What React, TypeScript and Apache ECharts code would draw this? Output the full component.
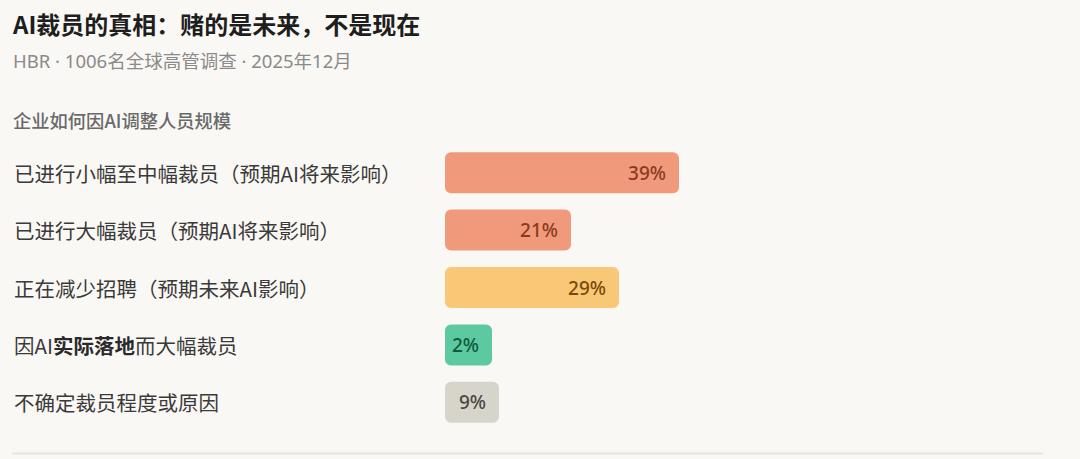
import React, { useEffect, useRef } from "react";
import * as echarts from "echarts";

const categories = [
  "已进行小幅至中幅裁员（预期AI将来影响）",
  "已进行大幅裁员（预期AI将来影响）",
  "正在减少招聘（预期未来AI影响）",
  "因AI实际落地而大幅裁员",
  "不确定裁员程度或原因",
];
const values = [39, 21, 29, 2, 9];
const barColors = ["#F09A7B", "#F09A7B", "#F9C877", "#5CC9A0", "#D7D4CC"];
const labelColors = ["#8A3A22", "#8A3A22", "#7A4A0C", "#0F5A3F", "#4A4740"];

const titleText = "AI裁员的真相：赌的是未来，不是现在";
const subtitleText = "HBR · 1006名全球高管调查 · 2025年12月";
const sectionText = "企业如何因AI调整人员规模";

const FONT = '"Noto Sans CJK SC", "Noto Sans", sans-serif';
const LATIN_FIRST = '"Noto Sans", "Noto Sans CJK SC", sans-serif';

export default function App() {
  const ref = useRef<HTMLDivElement>(null);
  useEffect(() => {
    if (!ref.current) return;
    const chart = echarts.init(ref.current, undefined, { renderer: "svg" });
    chart.setOption({
      animation: false,
      backgroundColor: "#FAF8F4",
      textStyle: { fontFamily: FONT },
      grid: { left: 445, right: 35, top: 144, height: 287 },
      xAxis: {
        type: "value",
        min: 0,
        max: 100,
        show: false,
      },
      yAxis: {
        type: "category",
        data: categories,
        inverse: true,
        axisLine: { show: false },
        axisTick: { show: false },
        splitLine: { show: false },
        axisLabel: {
          align: "left",
          margin: 431,
          fontSize: 20.5,
          color: "#3A3A3A",
          fontFamily: FONT,
          formatter: (v: string) =>
            v.includes("实际落地") ? v.replace("实际落地", "{b|实际落地}") : v,
          rich: {
            b: { fontSize: 20.5, fontWeight: "bold", color: "#2A2A2A", fontFamily: FONT },
          },
        },
      },
      series: [
        {
          type: "bar",
          data: values.map((v, i) => ({
            value: v,
            itemStyle: { color: barColors[i], borderRadius: 6 },
            label: { color: labelColors[i] },
          })),
          barWidth: 41,
          barMinHeight: 47,
          label: {
            show: true,
            position: "insideRight",
            distance: 13,
            formatter: "{c}%",
            fontSize: 19,
            fontWeight: 500,
            fontFamily: '"Noto Sans", sans-serif',
          },
        },
      ],
      graphic: [
        {
          type: "text",
          left: 13,
          top: 11,
          style: {
            text: titleText,
            fontSize: 24,
            fontWeight: "bold",
            fill: "#1E1E1E",
            fontFamily: FONT,
          },
        },
        {
          type: "text",
          left: 13,
          top: 51,
          style: {
            text: subtitleText,
            fontSize: 18.5,
            fill: "#8A8A8A",
            fontFamily: LATIN_FIRST,
          },
        },
        {
          type: "text",
          left: 13,
          top: 111,
          style: {
            text: sectionText,
            fontSize: 18.3,
            fontWeight: 500,
            fill: "#6A6A6A",
            fontFamily: FONT,
          },
        },
        {
          type: "line",
          shape: { x1: 12, y1: 453.5, x2: 1043, y2: 453.5 },
          style: { stroke: "#E8E4DE", lineWidth: 2 },
        },
      ],
    });
    return () => chart.dispose();
  }, []);
  return (
    <div
      ref={ref}
      style={{ position: "absolute", left: 0, top: 0, width: 1080, height: 459 }}
    />
  );
}
